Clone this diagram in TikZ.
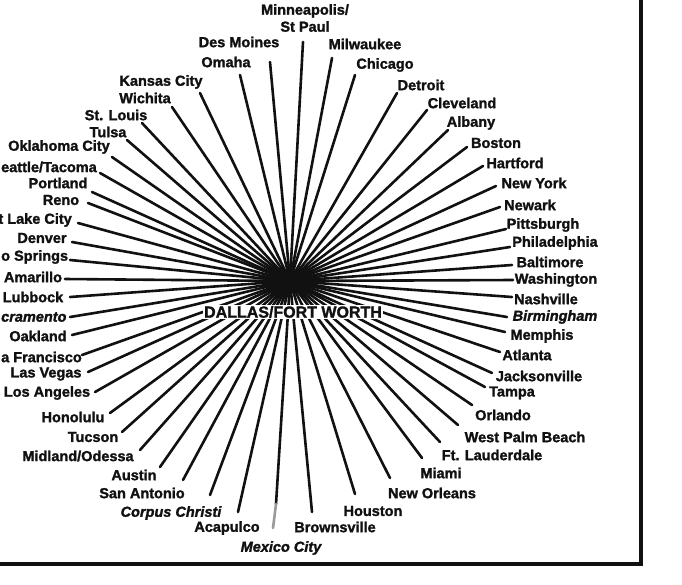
\documentclass[tikz,border=0pt]{standalone}
\usepackage{fontspec}
\setmainfont{Liberation Sans}
\newfontfamily\heavy{Liberation Sans Bold}[FakeBold=1.6]
\newfontfamily\heavyit{Liberation Sans Bold Italic}[FakeBold=1.6]
\usepackage{tikz}
\usetikzlibrary{positioning,calc}
\definecolor{Ink}{HTML}{111111}
\definecolor{Fade}{HTML}{9A9A9A}
\tikzset{
  city/.style={font=\fontsize{14.5}{17}\selectfont\heavy,text=Ink,inner sep=0pt,align=center},
  cityit/.style={city,font=\fontsize{14.5}{17}\selectfont\heavyit},
  hubname/.style={font=\fontsize{16}{18}\selectfont\heavy,text=Ink,fill=white,inner sep=1pt},
  spoke/.style={draw=Ink,line width=2.6pt,line cap=round},
  frame/.style={draw=Ink,line width=4pt}
}
\begin{document}
\begin{tikzpicture}[x=1pt,y=-1pt]
\clip (0,0) rectangle (682,584);
\fill[white] (0,0) rectangle (682,584);
\coordinate (hub) at (290,281);
% north
\node[city] (msp) at (305,18) {Minneapolis/\\St Paul}; \coordinate (msp-e) at (303,42);
\node[city] (dsm) at (239,42) {Des Moines}; \coordinate (dsm-e) at (270,62);
\node[city] (mke) at (365,44) {Milwaukee}; \coordinate (mke-e) at (332,58);
\node[city] (oma) at (226,62) {Omaha}; \coordinate (oma-e) at (240,75);
\node[city] (chi) at (385,65) {Chicago}; \coordinate (chi-e) at (355,75);
\node[city] (mci) at (161,82) {Kansas City}; \coordinate (mci-e) at (200,93);
\node[city] (ict) at (145,98) {Wichita}; \coordinate (ict-e) at (172,107);
\node[city] (dtw) at (421,85) {Detroit}; \coordinate (dtw-e) at (397,93);
\node[city] (stl) at (116,115) {St. Louis}; \coordinate (stl-e) at (142,123);
\node[city] (cle) at (462,103) {Cleveland}; \coordinate (cle-e) at (427,110);
\node[city] (tul) at (108,132) {Tulsa}; \coordinate (tul-e) at (127,140);
\node[city] (alb) at (471,123) {Albany}; \coordinate (alb-e) at (448,130);
\node[city] (okc) at (59,147) {Oklahoma City}; \coordinate (okc-e) at (112,157);
\node[city] (bos) at (496,143) {Boston}; \coordinate (bos-e) at (467,147);
% west
\node[city,anchor=east] (sea) at (97,167) {eattle/Tacoma}; \coordinate (sea-e) at (100,173);
\node[city] (bdl) at (515,163) {Hartford}; \coordinate (bdl-e) at (483,166);
\node[city] (pdx) at (58,183) {Portland}; \coordinate (pdx-e) at (92,192);
\node[city] (nyc) at (534,183) {New York}; \coordinate (nyc-e) at (496,186);
\node[city] (rno) at (61,200) {Reno}; \coordinate (rno-e) at (88,203);
\node[city] (ewr) at (530,205) {Newark}; \coordinate (ewr-e) at (500,207);
\node[city,anchor=east] (slc) at (72,220) {t Lake City}; \coordinate (slc-e) at (78,223);
\node[city] (pit) at (543,225) {Pittsburgh}; \coordinate (pit-e) at (506,229);
\node[city] (den) at (42,238) {Denver}; \coordinate (den-e) at (72,242);
\node[city] (phl) at (555,243) {Philadelphia}; \coordinate (phl-e) at (510,247);
\node[city,anchor=west] (cos) at (1,257) {o Springs}; \coordinate (cos-e) at (70,260);
\node[city] (bwi) at (550,262) {Baltimore}; \coordinate (bwi-e) at (512,265);
\node[city] (ama) at (33,277) {Amarillo}; \coordinate (ama-e) at (65,279);
\node[city] (was) at (556,280) {Washington}; \coordinate (was-e) at (513,280);
\node[city] (lbb) at (33,297) {Lubbock}; \coordinate (lbb-e) at (70,297);
\node[city] (bna) at (546,299) {Nashville}; \coordinate (bna-e) at (512,297);
\node[cityit,anchor=west] (smf) at (1,317) {cramento}; \coordinate (smf-e) at (70,317);
\node[cityit] (bhm) at (555,317) {Birmingham}; \coordinate (bhm-e) at (507,317);
\node[city] (oak) at (38,336) {Oakland}; \coordinate (oak-e) at (72,335);
\node[city] (mem) at (542,336) {Memphis}; \coordinate (mem-e) at (505,332);
\node[city,anchor=west] (sfo) at (1,357) {a Francisco}; \coordinate (sfo-e) at (82,355);
\node[city] (atl) at (527,355) {Atlanta}; \coordinate (atl-e) at (500,352);
\node[city] (las) at (46,374) {Las Vegas}; \coordinate (las-e) at (88,372);
\node[city] (jax) at (539,376) {Jacksonville}; \coordinate (jax-e) at (492,373);
\node[city] (lax) at (47,393) {Los Angeles}; \coordinate (lax-e) at (95,392);
\node[city] (tpa) at (512,393) {Tampa}; \coordinate (tpa-e) at (485,387);
% south
\node[city] (hnl) at (73,417) {Honolulu}; \coordinate (hnl-e) at (110,413);
\node[city] (mco) at (503,415) {Orlando}; \coordinate (mco-e) at (472,405);
\node[city] (tus) at (93,437) {Tucson}; \coordinate (tus-e) at (122,432);
\node[city] (pbi) at (525,437) {West Palm Beach}; \coordinate (pbi-e) at (458,425);
\node[city] (maf) at (78,456) {Midland/Odessa}; \coordinate (maf-e) at (140,450);
\node[city] (fll) at (492,455) {Ft. Lauderdale}; \coordinate (fll-e) at (440,442);
\node[city] (aus) at (134,475) {Austin}; \coordinate (aus-e) at (160,467);
\node[city] (mia) at (441,473) {Miami}; \coordinate (mia-e) at (422,458);
\node[city] (sat) at (142,493) {San Antonio}; \coordinate (sat-e) at (183,480);
\node[city] (msy) at (432,493) {New Orleans}; \coordinate (msy-e) at (390,478);
\node[cityit] (crp) at (171,513) {Corpus Christi}; \coordinate (crp-e) at (210,495);
\node[city] (iah) at (373,511) {Houston}; \coordinate (iah-e) at (355,494);
\node[city] (aca) at (227,528) {Acapulco}; \coordinate (aca-e) at (238,512);
\node[city] (bro) at (335,527) {Brownsville}; \coordinate (bro-e) at (312,512);
\node[cityit] (mex) at (281,548) {Mexico City}; \coordinate (mex-m) at (276,504); \coordinate (mex-e) at (273,528);
% spokes
\foreach \c in {msp,dsm,mke,oma,chi,mci,ict,dtw,stl,cle,tul,alb,okc,bos,sea,bdl,pdx,nyc,rno,ewr,slc,pit,den,phl,cos,bwi,ama,was,lbb,bna,smf,bhm,oak,mem,sfo,atl,las,jax,lax,tpa,hnl,mco,tus,pbi,maf,fll,aus,mia,sat,msy,crp,iah,aca,bro}
  \draw[spoke] (hub)--(\c-e);
\draw[spoke] (hub)--(mex-m); \draw[spoke,draw=Fade] (mex-m)--(mex-e);
\fill[Ink] (hub) ellipse [x radius=13pt,y radius=11pt];
\node[hubname] (dfw) at (293,312) {DALLAS/FORT WORTH};
% frame
\draw[frame] (0,564) -- (641,564) -- (641,0);
\end{tikzpicture}
\end{document}
